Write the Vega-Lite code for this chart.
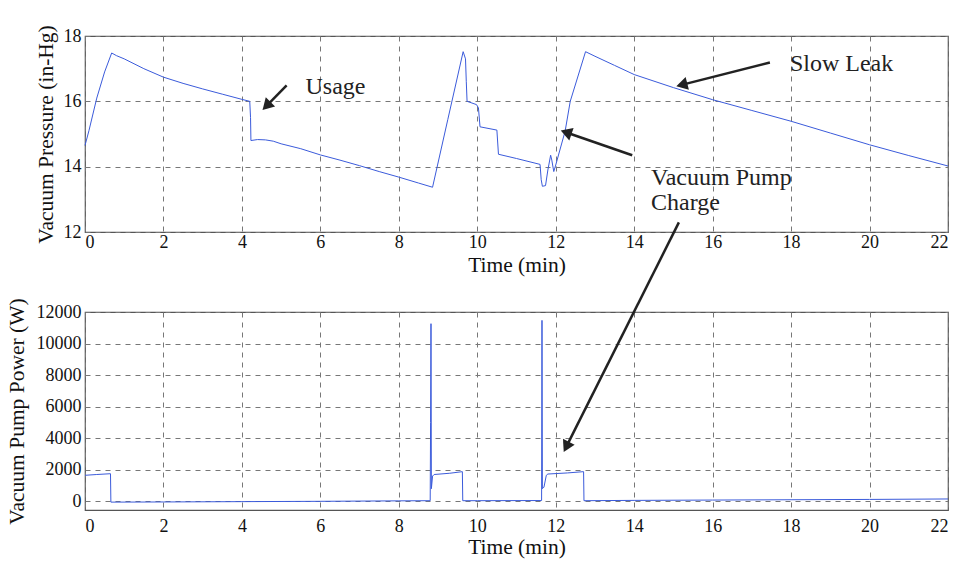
{
  "$schema": "https://vega.github.io/schema/vega-lite/v6.json",
  "padding": {"left": 5, "top": 24, "right": 10, "bottom": 5},
  "bounds": "flush",
  "spacing": 80,
  "config": {
    "font": "Liberation Serif",
    "view": {"stroke": "#555", "strokeWidth": 1.2},
    "axis": {
      "labelFont": "Liberation Serif", "titleFont": "Liberation Serif",
      "labelFontSize": 18, "titleFontSize": 21.5, "titleFontWeight": "normal",
      "labelColor": "#111", "titleColor": "#111", "labelOverlap": false, "tickCount": 30, "format": "d",
      "grid": true, "gridDash": [5, 5], "gridColor": "#777", "gridWidth": 1,
      "domain": false, "ticks": false
    }
  },
  "datasets": {
    "pressure": [
      {"t": 0, "p": 14.65}, {"t": 0.1, "p": 15.1}, {"t": 0.3, "p": 16.1}, {"t": 0.5, "p": 16.9},
      {"t": 0.68, "p": 17.48}, {"t": 0.8, "p": 17.4}, {"t": 1.0, "p": 17.3}, {"t": 1.5, "p": 17.0},
      {"t": 2.0, "p": 16.74}, {"t": 2.5, "p": 16.55}, {"t": 3.0, "p": 16.38}, {"t": 3.5, "p": 16.22},
      {"t": 4.0, "p": 16.06}, {"t": 4.2, "p": 16.0}, {"t": 4.22, "p": 15.5}, {"t": 4.23, "p": 14.8},
      {"t": 4.4, "p": 14.83}, {"t": 4.6, "p": 14.82}, {"t": 4.8, "p": 14.78}, {"t": 5.0, "p": 14.7},
      {"t": 5.5, "p": 14.55}, {"t": 6.0, "p": 14.36}, {"t": 6.5, "p": 14.2}, {"t": 7.0, "p": 14.03},
      {"t": 7.5, "p": 13.85}, {"t": 8.0, "p": 13.68}, {"t": 8.5, "p": 13.5}, {"t": 8.86, "p": 13.37},
      {"t": 9.25, "p": 15.45}, {"t": 9.64, "p": 17.52}, {"t": 9.7, "p": 17.3}, {"t": 9.72, "p": 16.6},
      {"t": 9.74, "p": 16.0}, {"t": 9.98, "p": 15.9}, {"t": 10.03, "p": 15.8}, {"t": 10.07, "p": 15.22},
      {"t": 10.5, "p": 15.12}, {"t": 10.54, "p": 14.38}, {"t": 11.0, "p": 14.25}, {"t": 11.6, "p": 14.07},
      {"t": 11.63, "p": 13.6}, {"t": 11.66, "p": 13.4}, {"t": 11.74, "p": 13.42}, {"t": 11.8, "p": 13.9},
      {"t": 11.87, "p": 14.35}, {"t": 11.9, "p": 14.2}, {"t": 11.95, "p": 13.85}, {"t": 12.0, "p": 14.05},
      {"t": 12.24, "p": 15.09}, {"t": 12.37, "p": 16.0}, {"t": 12.76, "p": 17.52}, {"t": 13.0, "p": 17.38},
      {"t": 13.5, "p": 17.1}, {"t": 14.0, "p": 16.82}, {"t": 15.0, "p": 16.42}, {"t": 16.0, "p": 16.05},
      {"t": 17.0, "p": 15.72}, {"t": 18.0, "p": 15.39}, {"t": 19.0, "p": 15.03}, {"t": 20.0, "p": 14.67},
      {"t": 21.0, "p": 14.34}, {"t": 22.0, "p": 14.02}
    ],
    "power": [
      {"t": 0, "w": 1650}, {"t": 0.3, "w": 1700}, {"t": 0.65, "w": 1750}, {"t": 0.66, "w": -50},
      {"t": 2, "w": -40}, {"t": 4, "w": -20}, {"t": 6, "w": 0}, {"t": 8, "w": 30}, {"t": 8.8, "w": 40},
      {"t": 8.81, "w": 5000}, {"t": 8.82, "w": 11260}, {"t": 8.83, "w": 800}, {"t": 8.86, "w": 1600},
      {"t": 8.9, "w": 1700}, {"t": 9.3, "w": 1780}, {"t": 9.62, "w": 1880}, {"t": 9.63, "w": 40},
      {"t": 10, "w": 40}, {"t": 11.64, "w": 50}, {"t": 11.65, "w": 11470}, {"t": 11.66, "w": 800},
      {"t": 11.7, "w": 900}, {"t": 11.76, "w": 1650}, {"t": 11.8, "w": 1730}, {"t": 12.3, "w": 1800},
      {"t": 12.71, "w": 1880}, {"t": 12.72, "w": 40}, {"t": 14, "w": 60}, {"t": 16, "w": 80},
      {"t": 18, "w": 100}, {"t": 20, "w": 120}, {"t": 22, "w": 150}
    ],
    "notesTop": [
      {"t": 5.62, "p": 16.22, "label": "Usage"},
      {"t": 17.97, "p": 16.92, "label": "Slow Leak"},
      {"t": 14.43, "p": 13.45, "label": "Vacuum Pump\nCharge"}
    ],
    "arrowsTop": [
      {"t": 5.14, "p": 16.49, "t2": 4.66, "p2": 15.9},
      {"t": 17.46, "p": 17.19, "t2": 15.26, "p2": 16.52},
      {"t": 13.95, "p": 14.35, "t2": 12.31, "p2": 15.03}
    ],
    "arrowBottom": [
      {"t": 15.14, "w": 17680, "t2": 12.29, "w2": 3560}
    ]
  },
  "vconcat": [
    {
      "width": 863,
      "height": 196,
      "layer": [
        {
          "data": {"name": "pressure"},
          "mark": {"type": "line", "color": "#3b5bdb", "strokeWidth": 1},
          "encoding": {
            "x": {"field": "t", "type": "quantitative",
                  "scale": {"domain": [0, 22], "nice": false},
                  "axis": {"values": [0, 2, 4, 6, 8, 10, 12, 14, 16, 18, 20, 22], "format": "d", "title": "Time (min)", "labelPadding": 1, "titlePadding": 3}},
            "y": {"field": "p", "type": "quantitative",
                  "scale": {"domain": [12, 18], "nice": false, "zero": false},
                  "axis": {"values": [12, 14, 16, 18], "format": "d", "title": "Vacuum Pressure (in-Hg)", "labelPadding": 4, "titlePadding": 6}}
          }
        },
        {
          "data": {"name": "notesTop"},
          "mark": {"type": "text", "align": "left", "baseline": "alphabetic", "fontSize": 24, "font": "Liberation Serif", "color": "#222", "lineBreak": "\n", "lineHeight": 25},
          "encoding": {
            "x": {"field": "t", "type": "quantitative"},
            "y": {"field": "p", "type": "quantitative"},
            "text": {"field": "label"}
          }
        },
        {
          "data": {"name": "arrowsTop"},
          "mark": {"type": "rule", "color": "#222", "strokeWidth": 2.5},
          "encoding": {
            "x": {"field": "t", "type": "quantitative"},
            "y": {"field": "p", "type": "quantitative"},
            "x2": {"field": "t2"},
            "y2": {"field": "p2"}
          }
        },
        {
          "data": {"values": [{"t": 4.66, "p": 15.9}]},
          "mark": {"type": "point", "shape": "triangle", "filled": true, "color": "#222", "opacity": 1, "size": 170, "angle": 224.5},
          "encoding": {"x": {"field": "t", "type": "quantitative"}, "y": {"field": "p", "type": "quantitative"}}
        },
        {
          "data": {"values": [{"t": 15.26, "p": 16.52}]},
          "mark": {"type": "point", "shape": "triangle", "filled": true, "color": "#222", "opacity": 1, "size": 170, "angle": 255.7},
          "encoding": {"x": {"field": "t", "type": "quantitative"}, "y": {"field": "p", "type": "quantitative"}}
        },
        {
          "data": {"values": [{"t": 12.31, "p": 15.03}]},
          "mark": {"type": "point", "shape": "triangle", "filled": true, "color": "#222", "opacity": 1, "size": 170, "angle": 289.1},
          "encoding": {"x": {"field": "t", "type": "quantitative"}, "y": {"field": "p", "type": "quantitative"}}
        }
      ]
    },
    {
      "width": 863,
      "height": 198,
      "layer": [
        {
          "data": {"name": "power"},
          "mark": {"type": "line", "color": "#3b5bdb", "strokeWidth": 1},
          "encoding": {
            "x": {"field": "t", "type": "quantitative",
                  "scale": {"domain": [0, 22], "nice": false},
                  "axis": {"values": [0, 2, 4, 6, 8, 10, 12, 14, 16, 18, 20, 22], "format": "d", "title": "Time (min)", "labelPadding": 7, "titlePadding": 1}},
            "y": {"field": "w", "type": "quantitative",
                  "scale": {"domain": [-550, 12000], "nice": false, "zero": false},
                  "axis": {"values": [0, 2000, 4000, 6000, 8000, 10000, 12000], "format": "d", "title": "Vacuum Pump Power (W)", "labelPadding": 4, "titlePadding": 8}}
          }
        },
        {
          "data": {"name": "arrowBottom"},
          "mark": {"type": "rule", "color": "#222", "strokeWidth": 2.5, "clip": false},
          "encoding": {
            "x": {"field": "t", "type": "quantitative"},
            "y": {"field": "w", "type": "quantitative"},
            "x2": {"field": "t2"},
            "y2": {"field": "w2"}
          }
        },
        {
          "data": {"values": [{"t": 12.29, "w": 3560}]},
          "mark": {"type": "point", "shape": "triangle", "filled": true, "color": "#222", "opacity": 1, "size": 170, "angle": 206.7},
          "encoding": {"x": {"field": "t", "type": "quantitative"}, "y": {"field": "w", "type": "quantitative"}}
        }
      ]
    }
  ]
}
